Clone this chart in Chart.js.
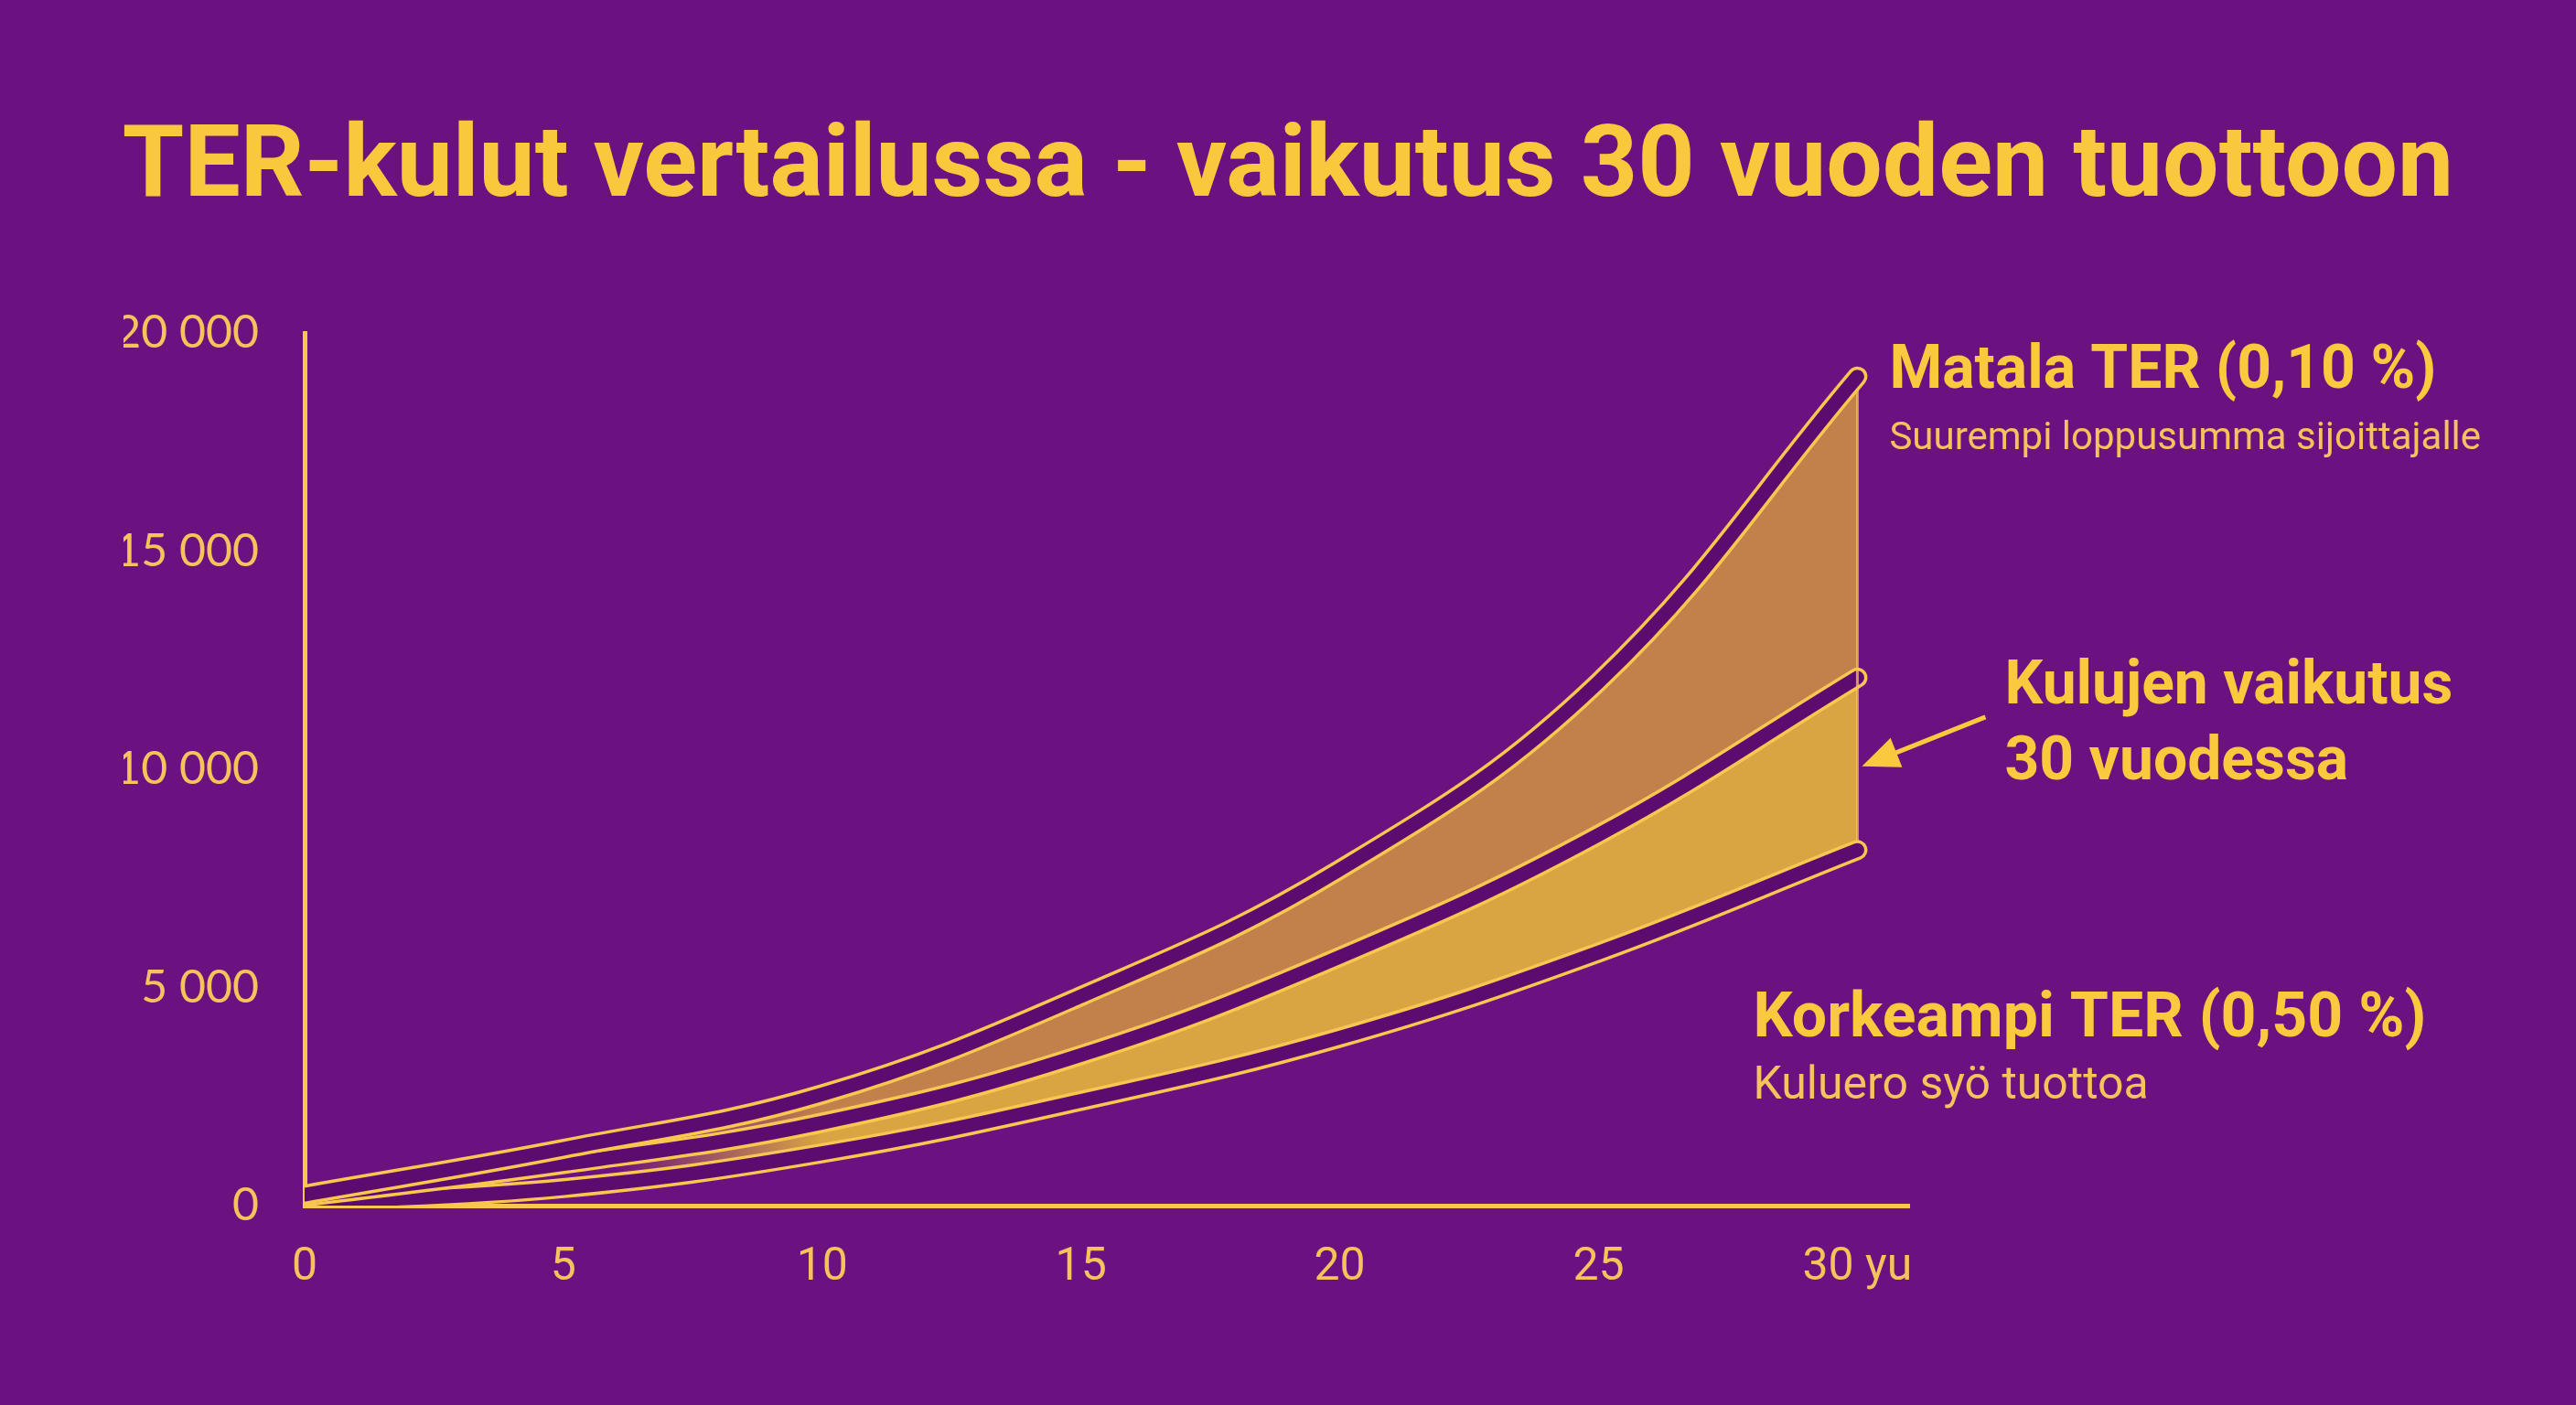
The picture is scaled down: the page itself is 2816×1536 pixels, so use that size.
<!DOCTYPE html>
<html>
<head>
<meta charset="utf-8">
<script src="https://cdn.jsdelivr.net/npm/chart.js@4.4.1/dist/chart.umd.min.js"></script>
<style>
  html, body { margin: 0; padding: 0; background: #6c1280; }
  #wrap { width: 2816px; height: 1536px; }
</style>
</head>
<body>
<div id="wrap"><canvas id="terChart"></canvas></div>
<script>
// data
const years = [0, 5, 10, 15, 20, 25, 30];
const xTicks = [0, 5, 10, 15, 20, 25, 30];
const yTicks = [0, 5000, 10000, 15000, 20000];
const matalaTer = [250, 1300, 2550, 4800, 7700, 12000, 19000];
const keskitaso = [200, 950, 1900, 3450, 5700, 8500, 12100];
const korkeaTer = [60, 400, 1200, 2400, 3850, 5800, 8150];

const BG = '#6c1280';
const GOLD = '#f8c651';
const TUBE_IN = '#5c0c6e';
const TEXT_BOLD = '#fbc93e';
const TEXT_SOFT = '#f5c35c';

const toPoints = (arr) => years.map((y, i) => ({ x: y, y: arr[i] }));

// fill fades in from the left, like the reference
function fadeFill(r, g, b) {
    return (context) => {
        const chart = context.chart;
        const xs = chart.scales.x;
        if (!chart.chartArea || !xs || isNaN(xs.getPixelForValue(5))) return `rgb(${r},${g},${b})`;
        const grad = chart.ctx.createLinearGradient(xs.getPixelForValue(6), 0, xs.getPixelForValue(10), 0);
        grad.addColorStop(0, `rgba(${r},${g},${b},0)`);
        grad.addColorStop(1, `rgb(${r},${g},${b})`);
        return grad;
    };
}

function line(data, color, width, fill, fillColor) {
    return {
        data: toPoints(data),
        borderColor: color,
        borderWidth: width,
        borderCapStyle: 'round',
        borderJoinStyle: 'round',
        tension: 0.4,
        pointRadius: 0,
        pointHoverRadius: 0,
        fill: fill,
        backgroundColor: fillColor || 'transparent'
    };
}

const terLabels = {
    id: 'terLabels',
    beforeDraw(chart) {
        const ctx = chart.ctx;
        ctx.save();
        ctx.fillStyle = BG;
        ctx.fillRect(0, 0, chart.width, chart.height);
        ctx.fillStyle = '#f9c83d';
        ctx.font = 'bold 109px Roboto';
        ctx.textAlign = 'center';
        ctx.textBaseline = 'alphabetic';
        ctx.fillText('TER-kulut vertailussa - vaikutus 30 vuoden tuottoon', chart.width / 2, 214);
        ctx.restore();
    },
    afterDatasetsDraw(chart) {
        const { x, y } = chart.scales;
        const ctx = chart.ctx;
        const last = years.length - 1;
        const xe = x.getPixelForValue(years[last]);
        ctx.save();
        ctx.strokeStyle = 'rgba(250,200,80,0.75)';
        ctx.lineWidth = 3;
        ctx.beginPath();
        ctx.moveTo(xe, y.getPixelForValue(matalaTer[last]) + 14);
        ctx.lineTo(xe, y.getPixelForValue(korkeaTer[last]) - 10);
        ctx.stroke();
        ctx.restore();
    },
    afterDraw(chart) {
        const { x, y } = chart.scales;
        const ctx = chart.ctx;
        const last = years.length - 1;
        const xe = x.getPixelForValue(years[last]);
        const yTop = y.getPixelForValue(matalaTer[last]);
        const yMid = y.getPixelForValue(keskitaso[last]);
        const yBot = y.getPixelForValue(korkeaTer[last]);
        ctx.save();
        ctx.textAlign = 'left';
        ctx.textBaseline = 'alphabetic';

        ctx.fillStyle = TEXT_BOLD;
        ctx.font = 'bold 66px Roboto';
        ctx.fillText('Matala TER (0,10 %)', xe + 35, yTop + 12);
        ctx.fillStyle = TEXT_SOFT;
        ctx.font = '42px Roboto';
        ctx.fillText('Suurempi loppusumma sijoittajalle', xe + 35, yTop + 79);

        ctx.fillStyle = TEXT_BOLD;
        ctx.font = 'bold 66px Roboto';
        ctx.fillText('Kulujen vaikutus', xe + 161, yMid + 28);
        ctx.fillText('30 vuodessa', xe + 161, yMid + 111);

        ctx.fillStyle = TEXT_BOLD;
        ctx.font = 'bold 68px Roboto';
        ctx.fillText('Korkeampi TER (0,50 %)', xe - 114, yBot + 204);
        ctx.fillStyle = TEXT_SOFT;
        ctx.font = '50px Roboto';
        ctx.fillText('Kuluero syö tuottoa', xe - 114, yBot + 272);

        // arrow to the gap between the curves
        const tx = xe + 140, ty = yMid + 43;
        const hx = xe + 5, hy = yMid + 97;
        const ang = Math.atan2(hy - ty, hx - tx);
        ctx.strokeStyle = TEXT_BOLD;
        ctx.fillStyle = TEXT_BOLD;
        ctx.lineWidth = 5;
        ctx.beginPath();
        ctx.moveTo(tx, ty);
        ctx.lineTo(hx - Math.cos(ang) * 30, hy - Math.sin(ang) * 30);
        ctx.stroke();
        ctx.beginPath();
        ctx.moveTo(hx, hy);
        ctx.lineTo(hx - Math.cos(ang - 0.4) * 44, hy - Math.sin(ang - 0.4) * 44);
        ctx.lineTo(hx - Math.cos(ang + 0.4) * 44, hy - Math.sin(ang + 0.4) * 44);
        ctx.closePath();
        ctx.fill();
        ctx.restore();
    }
};

new Chart(document.getElementById('terChart'), {
    type: 'line',
    data: {
        datasets: [
            line(matalaTer, TUBE_IN, 15, false),
            line(matalaTer, GOLD, 22, 3, fadeFill(194, 128, 75)),
            line(keskitaso, TUBE_IN, 15, false),
            line(keskitaso, GOLD, 22, 5, fadeFill(217, 165, 66)),
            line(korkeaTer, TUBE_IN, 15, false),
            line(korkeaTer, GOLD, 22, false)
        ]
    },
    options: {
        responsive: true,
        maintainAspectRatio: false,
        animation: false,
        layout: { padding: { top: 364, left: 135, right: 729, bottom: 0 } },
        plugins: {
            legend: { display: false },
            tooltip: { enabled: false },
            title: { display: false },
            filler: { drawTime: 'beforeDatasetsDraw' }
        },
        scales: {
            x: {
                type: 'linear',
                min: 0,
                max: 31,
                afterBuildTicks: (scale) => { scale.ticks = xTicks.map(v => ({ value: v })); },
                afterFit: (scale) => { scale.height = 218; },
                grid: { display: false },
                border: { display: true, color: GOLD, width: 5 },
                ticks: {
                    color: TEXT_SOFT,
                    font: { family: 'Roboto', size: 50 },
                    padding: 30,
                    maxRotation: 0,
                    callback: (v) => v === 30 ? '30 yu' : String(v)
                }
            },
            y: {
                min: 0,
                max: 20000,
                afterBuildTicks: (scale) => { scale.ticks = yTicks.map(v => ({ value: v })); },
                afterFit: (scale) => { scale.width = 198; },
                grid: { display: false },
                border: { display: true, color: GOLD, width: 5 },
                ticks: {
                    color: TEXT_SOFT,
                    font: { family: 'Lato', size: 50 },
                    padding: 42,
                    callback: (v) => String(v).replace(/\B(?=(\d{3})+(?!\d))/g, ' ')
                }
            }
        }
    },
    plugins: [terLabels]
});
</script>
</body>
</html>
